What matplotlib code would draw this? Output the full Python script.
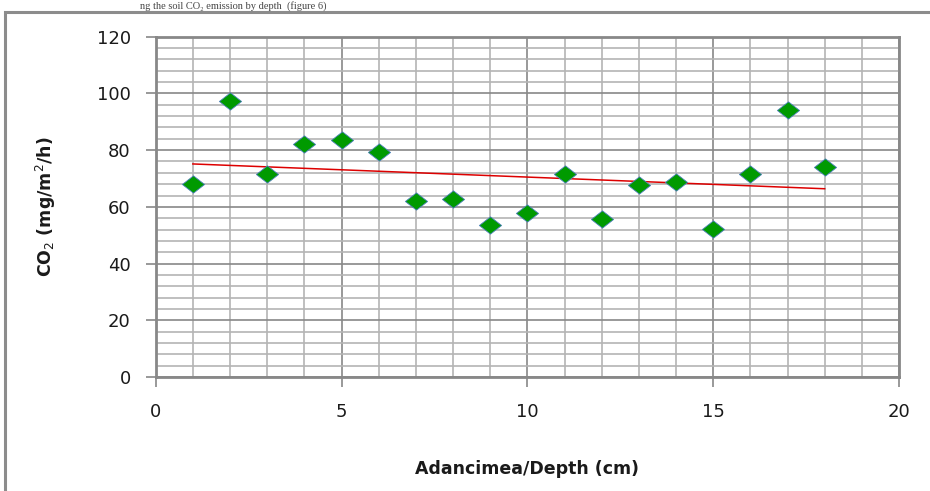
import numpy as np
import matplotlib
matplotlib.use("Agg")
import matplotlib.pyplot as plt
from matplotlib.path import Path
from matplotlib.patches import Rectangle

depth = [1, 2, 3, 4, 5, 6, 7, 8, 9, 10, 11, 12, 13, 14, 15, 16, 17, 18]
co2 = [68.0, 97.4, 71.6, 82.2, 83.6, 79.4, 62.1, 62.7, 53.6, 57.7,
       71.6, 55.7, 67.7, 68.6, 52.1, 71.6, 94.1, 73.9]
x_ticks = [0, 5, 10, 15, 20]
y_ticks = [0, 20, 40, 60, 80, 100, 120]

W, H = 930, 491
fig = plt.figure(figsize=(W / 100, H / 100), dpi=100)
fig.patch.set_facecolor("white")

# outer frame (top and left edges visible)
fig.patches.append(Rectangle((5 / W, -0.1), 1.2, 1.1 - 12 / H,
                             transform=fig.transFigure, fill=False,
                             edgecolor="#8c8c8c", linewidth=2.2, zorder=0))
# small caption text above frame
fig.text(140 / W, 1 - 1 / H, "ng the soil CO\u2082 emission by depth  (figure 6)",
         family="Liberation Serif", fontsize=7.5, va="top", ha="left", color="#444444")

ax = fig.add_axes([155.7 / W, 1 - 377 / H, (899 - 155.7) / W, (377 - 36.7) / H])
ax.set_xlim(0, 20)
ax.set_ylim(0, 120)

ax.set_xticks(x_ticks)
ax.set_yticks(y_ticks)
ax.set_xticks(np.arange(0, 21, 1), minor=True)
ax.set_yticks(np.arange(0, 121, 4), minor=True)

ax.grid(which="minor", color="#b4b4b4", linewidth=1.2, zorder=0)
ax.grid(which="major", color="#888888", linewidth=1.2, zorder=0.5)
ax.set_axisbelow(True)

for s in ax.spines.values():
    s.set_color("#888888")
    s.set_linewidth(2.0)

ax.tick_params(which="major", direction="out", length=7, width=1.2, color="#888888",
               labelsize=13, labelcolor="#1a1a1a")
ax.tick_params(axis="x", which="major", pad=12)
ax.tick_params(axis="y", which="major", pad=11)
ax.tick_params(which="minor", length=0)

# trend line (linear fit)
coef = np.polyfit(depth, co2, 1)
xs = np.array([min(depth), max(depth)])
ax.plot(xs, np.polyval(coef, xs), color="#dd0000", linewidth=1.1, zorder=2)

diamond = Path([(-1, 0), (0, 0.78), (1, 0), (0, -0.78), (-1, 0)],
               [Path.MOVETO, Path.LINETO, Path.LINETO, Path.LINETO, Path.CLOSEPOLY])
ax.plot(depth, co2, linestyle="none", marker=diamond, markersize=16,
        markerfacecolor="#009a00", markeredgecolor="#4f81bd", markeredgewidth=0.6,
        zorder=3)

ax.set_xlabel("Adancimea/Depth (cm)", fontsize=12.5, fontweight="bold",
              color="#1a1a1a")
ax.set_ylabel("CO$_2$ (mg/m$^2$/h)", fontsize=12.5, fontweight="bold",
              color="#1a1a1a")
ax.yaxis.set_label_coords((57.6 - 155.7) / (899 - 155.7), 0.5)
ax.xaxis.set_label_coords(0.5, -(460 - 377) / (377 - 36.7))

fig.savefig("out.png", dpi=100, facecolor="white")
